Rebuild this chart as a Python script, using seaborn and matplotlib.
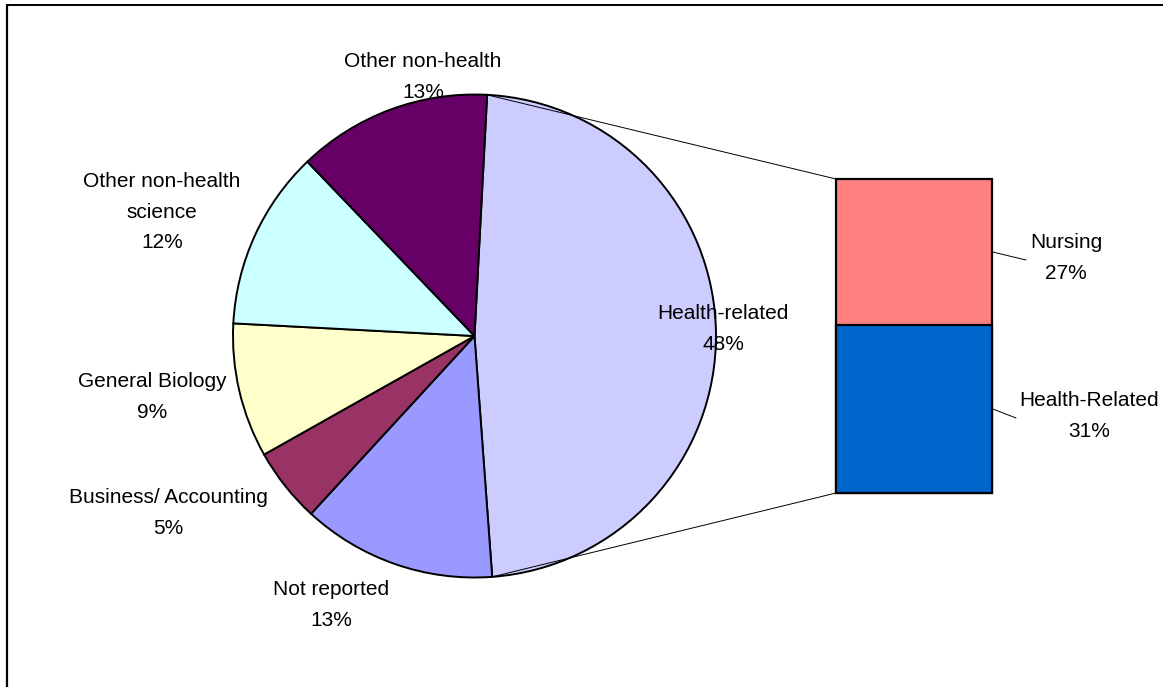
import numpy as np
import pandas as pd
import matplotlib
matplotlib.use("Agg")
import matplotlib.pyplot as plt
from matplotlib.lines import Line2D
import seaborn as sns

# Field of study breakdown (pie) and split of the health-related slice (bar)
pie_labels = ["Health-related", "Not reported", "Business/ Accounting",
              "General Biology", "Other non-health\nscience", "Other non-health"]
pie_values = [48, 13, 5, 9, 12, 13]
pie_colors = ["#CCCCFF", "#9999FF", "#993366", "#FFFFCC", "#CCFFFF", "#660066"]

bar_labels = ["Nursing", "Health-Related"]
bar_values = [27, 31]
bar_colors = ["#FF8080", "#0066CC"]

W, H = 1163, 687
sns.set_style("white")
plt.rcParams["font.family"] = ["Liberation Sans", "DejaVu Sans"]

fig = plt.figure(figsize=(W / 100, H / 100), dpi=100)
ax = fig.add_axes([0, 0, 1, 1])


def Y(y):
    """Convert a top-down pixel row into the axes' bottom-up coordinate."""
    return H - y


# ---- pie ----
cx, cy, r = 474.5, Y(336), 241.5
start = 87.0
wedges, _ = ax.pie(pie_values, colors=pie_colors, startangle=start,
                   counterclock=False, center=(cx, cy), radius=r, frame=True,
                   wedgeprops=dict(edgecolor="black", linewidth=1.4))
ax.set_xlim(0, W)
ax.set_ylim(0, H)
ax.axis("off")

label_pos = [(723, 329), (331, 605), (168, 513), (152, 397), (162, 212), (423, 77)]
text_kw = dict(fontsize=15, ha="center", va="center", linespacing=1.75, color="black")
for name, val, (lx, ly) in zip(pie_labels, pie_values, label_pos):
    ax.text(lx, Y(ly), f"{name}\n{val}%", zorder=5, **text_kw)

# ---- stacked bar for the split ----
bx0, bx1, by0, by1 = 836, 992, 179, 493
bax = fig.add_axes([bx0 / W, Y(by1) / H, (bx1 - bx0) / W, (by1 - by0) / H])
total = sum(bar_values)
df = pd.DataFrame({"group": ["split"], "total": [total], "base": [bar_values[1]]})
sns.barplot(data=df, x="group", y="total", color=bar_colors[0], width=1,
            saturation=1, edgecolor="black", linewidth=1.6, ax=bax)
sns.barplot(data=df, x="group", y="base", color=bar_colors[1], width=1,
            saturation=1, edgecolor="black", linewidth=1.6, ax=bax)
bax.set_xlim(-0.5, 0.5)
bax.set_ylim(0, total)
bax.axis("off")
for p in bax.patches:
    p.set_clip_on(False)

# connector lines from the health-related slice edges to the bar corners
a_top = np.deg2rad(start)
a_bot = np.deg2rad(start - 360 * pie_values[0] / sum(pie_values))
ax.plot([cx + r * np.cos(a_top), bx0], [cy + r * np.sin(a_top), Y(by0)],
        color="black", lw=0.7, zorder=1)
ax.plot([cx + r * np.cos(a_bot), bx0], [cy + r * np.sin(a_bot), Y(by1)],
        color="black", lw=0.7, zorder=1)

# bar segment labels with short leader lines
seg_h = (by1 - by0) / total
nursing_mid = by0 + seg_h * bar_values[0] / 2
related_mid = by1 - seg_h * bar_values[1] / 2
bar_label_pos = [(1066, 258), (1089, 416)]
leader_end = [(1026, 260), (1016, 418)]
for name, val, (lx, ly), (ex, ey), mid in zip(bar_labels, bar_values, bar_label_pos,
                                               leader_end, [nursing_mid, related_mid]):
    ax.text(lx, Y(ly), f"{name}\n{val}%", **text_kw)
    ax.plot([bx1 + 1, ex], [Y(mid), Y(ey)], color="black", lw=0.7)

# chart area border (left and top edges)
fig.add_artist(Line2D([6.5 / W, 6.5 / W], [0, 1 - 5 / H], transform=fig.transFigure,
                      color="black", lw=1.6))
fig.add_artist(Line2D([6.5 / W, 1], [1 - 5 / H, 1 - 5 / H], transform=fig.transFigure,
                      color="black", lw=1.4))

fig.savefig("out.png", dpi=100)
